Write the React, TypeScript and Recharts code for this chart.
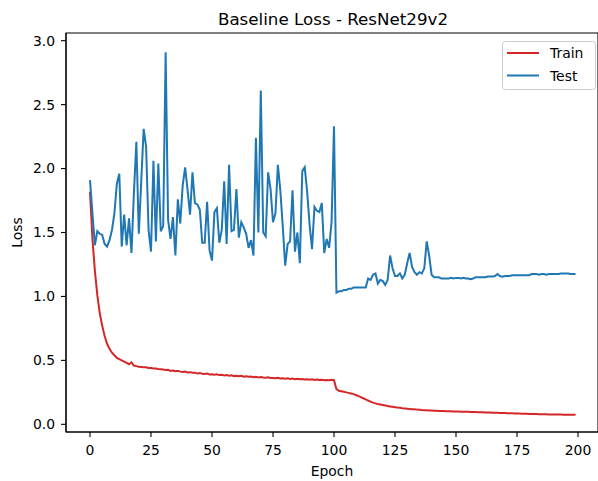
import React from 'react';
import { LineChart, Line, XAxis, YAxis, ReferenceArea } from 'recharts';

const epochs: number[] = Array.from({ length: 200 }, (_, i) => i);

const trainLoss: number[] = [
  1.82, 1.45, 1.20, 1.01, 0.87, 0.77, 0.69, 0.63, 0.59, 0.56,
  0.54, 0.52, 0.51, 0.50, 0.49, 0.48, 0.47, 0.485, 0.46, 0.455,
  0.450, 0.448, 0.446, 0.446, 0.440, 0.441, 0.436, 0.437, 0.432, 0.430,
  0.428, 0.424, 0.426, 0.418, 0.420, 0.416, 0.418, 0.412, 0.410, 0.412,
  0.405, 0.408, 0.403, 0.404, 0.398, 0.402, 0.396, 0.393, 0.397, 0.390,
  0.392, 0.388, 0.391, 0.385, 0.387, 0.382, 0.386, 0.380, 0.383, 0.377,
  0.379, 0.376, 0.380, 0.373, 0.375, 0.372, 0.374, 0.369, 0.371, 0.366,
  0.370, 0.366, 0.364, 0.368, 0.362, 0.363, 0.360, 0.364, 0.359, 0.361,
  0.357, 0.360, 0.355, 0.358, 0.353, 0.356, 0.352, 0.355, 0.350, 0.353,
  0.349, 0.352, 0.347, 0.350, 0.346, 0.349, 0.345, 0.347, 0.344, 0.348,
  0.345, 0.275, 0.262, 0.258, 0.254, 0.250, 0.246, 0.241, 0.236, 0.229,
  0.221, 0.213, 0.204, 0.195, 0.186, 0.178, 0.170, 0.164, 0.159, 0.155,
  0.151, 0.147, 0.143, 0.140, 0.137, 0.134, 0.131, 0.129, 0.126, 0.124,
  0.122, 0.120, 0.118, 0.117, 0.115, 0.114, 0.112, 0.111, 0.110, 0.109,
  0.108, 0.107, 0.106, 0.105, 0.104, 0.104, 0.103, 0.102, 0.102, 0.101,
  0.100, 0.100, 0.099, 0.099, 0.098, 0.098, 0.097, 0.096, 0.096, 0.095,
  0.095, 0.094, 0.093, 0.093, 0.092, 0.091, 0.091, 0.090, 0.089, 0.089,
  0.088, 0.087, 0.087, 0.086, 0.085, 0.085, 0.084, 0.083, 0.083, 0.082,
  0.081, 0.081, 0.080, 0.080, 0.079, 0.079, 0.078, 0.078, 0.077, 0.077,
  0.077, 0.076, 0.076, 0.076, 0.075, 0.075, 0.075, 0.075, 0.075, 0.075,
];

const testLoss: number[] = [
  1.91, 1.65, 1.40, 1.51, 1.49, 1.48, 1.41, 1.39, 1.44, 1.52,
  1.65, 1.88, 1.96, 1.39, 1.64, 1.40, 1.61, 1.34, 1.81, 2.21,
  1.49, 1.90, 2.31, 2.17, 1.52, 1.35, 2.06, 1.43, 2.04, 1.51,
  1.55, 2.91, 1.60, 1.45, 1.62, 1.32, 1.76, 1.57, 1.87, 2.01,
  1.83, 1.64, 1.97, 1.73, 1.72, 1.68, 1.42, 1.42, 1.74, 1.36,
  1.28, 1.66, 1.69, 1.42, 1.52, 1.90, 1.41, 2.03, 1.51, 1.52,
  1.84, 1.46, 1.58, 1.54, 1.49, 1.38, 1.44, 1.32, 2.24, 1.50,
  2.61, 1.50, 1.47, 1.97, 1.84, 1.58, 1.65, 2.03, 1.83, 1.55,
  1.24, 1.41, 1.43, 1.83, 1.35, 1.50, 1.26, 1.98, 2.01, 1.82,
  1.56, 1.37, 1.70, 1.67, 1.66, 1.73, 1.34, 1.45, 1.38, 1.58,
  2.33, 1.03, 1.04, 1.04, 1.05, 1.05, 1.06, 1.06, 1.07, 1.07,
  1.07, 1.07, 1.07, 1.07, 1.14, 1.13, 1.17, 1.18, 1.10, 1.13,
  1.12, 1.09, 1.13, 1.32, 1.22, 1.16, 1.16, 1.18, 1.14, 1.17,
  1.26, 1.34, 1.23, 1.19, 1.17, 1.19, 1.18, 1.22, 1.43, 1.32,
  1.17, 1.15, 1.15, 1.15, 1.14, 1.14, 1.14, 1.14, 1.145, 1.14,
  1.145, 1.145, 1.14, 1.145, 1.14, 1.14, 1.135, 1.14, 1.15, 1.15,
  1.15, 1.15, 1.15, 1.155, 1.155, 1.155, 1.16, 1.175, 1.16, 1.155,
  1.16, 1.16, 1.16, 1.165, 1.165, 1.165, 1.165, 1.165, 1.165, 1.165,
  1.165, 1.175, 1.175, 1.175, 1.17, 1.175, 1.175, 1.17, 1.175, 1.175,
  1.175, 1.175, 1.175, 1.18, 1.18, 1.18, 1.18, 1.175, 1.175, 1.175,
];

const xTicks: number[] = [0, 25, 50, 75, 100, 125, 150, 175, 200];
const yTicks: number[] = [0, 0.5, 1.0, 1.5, 2.0, 2.5, 3.0];

const titleText = 'Baseline Loss - ResNet29v2';
const seriesNames = ['Train', 'Test'];
const seriesColors = ['#d62728', '#1f77b4'];

const xDomain: [number, number] = [-9.836, 208.2];
const yDomain: [number, number] = [-0.06, 3.06];

const data = epochs.map((e, i) => ({ epoch: e, train: trainLoss[i], test: testLoss[i] }));

const FONT = '"DejaVu Sans", sans-serif';
const tickStyle = { fill: '#000', fontSize: 13.9, fontFamily: FONT };

export default function App() {
  return (
    <div style={{ position: 'absolute', left: 0, top: 0, width: 598, height: 481, background: '#fff' }}>
      <LineChart
        width={598}
        height={481}
        data={data}
        margin={{ top: 33, right: 0, bottom: 0, left: 0 }}
      >
        <XAxis
          dataKey="epoch"
          type="number"
          domain={xDomain}
          allowDataOverflow
          ticks={xTicks}
          interval={0}
          height={49}
          tickSize={5}
          tickMargin={8}
          stroke="#000"
          tick={tickStyle}
          tickLine={{ stroke: '#000', strokeWidth: 1.1 }}
          axisLine={{ stroke: '#000', strokeWidth: 1.1 }}
          label={{ value: 'Epoch', position: 'insideBottom', offset: 5, style: { fill: '#000', fontSize: 13.9, fontFamily: FONT } }}
        />
        <YAxis
          type="number"
          domain={yDomain}
          allowDataOverflow
          ticks={yTicks}
          interval={0}
          width={66}
          tickSize={5}
          tickMargin={6}
          tickFormatter={(v: number) => v.toFixed(1)}
          stroke="#000"
          tick={tickStyle}
          tickLine={{ stroke: '#000', strokeWidth: 1.1 }}
          axisLine={{ stroke: '#000', strokeWidth: 1.1 }}
          label={{ value: 'Loss', angle: -90, position: 'insideLeft', offset: 17, style: { fill: '#000', fontSize: 13.9, fontFamily: FONT, textAnchor: 'middle' } }}
        />
        <ReferenceArea
          x1={xDomain[0]}
          x2={xDomain[1]}
          y1={yDomain[0]}
          y2={yDomain[1]}
          fill="none"
          fillOpacity={0}
          stroke="#000"
          strokeWidth={1.1}
          ifOverflow="visible"
        />
        <Line
          type="linear"
          dataKey="train"
          name={seriesNames[0]}
          stroke={seriesColors[0]}
          strokeWidth={2}
          dot={false}
          activeDot={false}
          isAnimationActive={false}
        />
        <Line
          type="linear"
          dataKey="test"
          name={seriesNames[1]}
          stroke={seriesColors[1]}
          strokeWidth={2}
          dot={false}
          activeDot={false}
          isAnimationActive={false}
        />
      </LineChart>
      <svg
        width={598}
        height={481}
        style={{ position: 'absolute', left: 0, top: 0, pointerEvents: 'none' }}
      >
        <text x={333} y={24.5} textAnchor="middle" fontSize={16.7} fontFamily={FONT} fill="#000">
          {titleText}
        </text>
        <rect x={502.5} y={41.5} width={93} height={48} rx={3} ry={3} fill="rgba(255,255,255,0.8)" stroke="#cccccc" strokeWidth={1} />
        {seriesNames.map((name, i) => (
          <g key={name}>
            <line x1={507} x2={539} y1={53 + i * 22.5} y2={53 + i * 22.5} stroke={seriesColors[i]} strokeWidth={2} />
            <text x={550} y={53 + i * 22.5 + 5} fontSize={13.9} fontFamily={FONT} fill="#000">
              {name}
            </text>
          </g>
        ))}
      </svg>
    </div>
  );
}
